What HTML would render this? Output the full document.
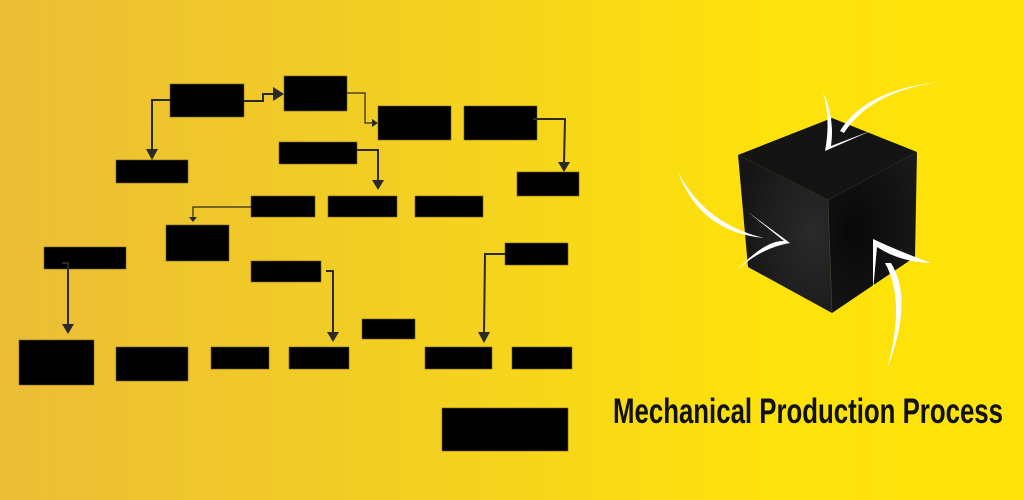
<!DOCTYPE html>
<html><head><meta charset="utf-8"><style>
html,body{margin:0;padding:0;}
body{width:1024px;height:500px;overflow:hidden;background:linear-gradient(90deg,#ebbd36 0%,#f4d21f 45%,#fde20b 75%,#fee30a 100%);}
svg{display:block}
</style></head><body>
<svg width="1024" height="500" viewBox="0 0 1024 500" xmlns="http://www.w3.org/2000/svg">
<defs>
<radialGradient id="lf" cx="0.8" cy="0.5" r="0.8"><stop offset="0" stop-color="#2a2a2a"/><stop offset="1" stop-color="#151515"/></radialGradient>
<radialGradient id="rf" cx="0.3" cy="0.5" r="0.8"><stop offset="0" stop-color="#080808"/><stop offset="1" stop-color="#1a1a1a"/></radialGradient>
</defs>
<g fill="#000" stroke="#6b5a1a" stroke-width="0.6">
<rect x="170" y="84" width="74" height="33"/>
<rect x="284" y="76" width="63" height="35"/>
<rect x="378" y="106" width="73" height="34"/>
<rect x="464" y="106" width="73" height="34"/>
<rect x="116" y="160" width="72" height="23"/>
<rect x="279" y="142" width="78" height="22"/>
<rect x="517" y="172" width="62" height="24"/>
<rect x="251" y="196" width="64" height="21"/>
<rect x="328" y="196" width="69" height="21"/>
<rect x="415" y="196" width="68" height="21"/>
<rect x="166" y="225" width="63" height="36"/>
<rect x="44" y="247" width="82" height="22"/>
<rect x="251" y="261" width="70" height="21"/>
<rect x="505" y="243" width="63" height="22"/>
<rect x="362" y="319" width="53" height="20"/>
<rect x="19" y="340" width="75" height="45"/>
<rect x="116" y="347" width="72" height="34"/>
<rect x="211" y="347" width="58" height="22"/>
<rect x="289" y="347" width="60" height="22"/>
<rect x="425" y="347" width="67" height="22"/>
<rect x="512" y="347" width="60" height="22"/>
<rect x="442" y="408" width="126" height="43"/>
</g>
<g fill="none" stroke="#2a2a2a" stroke-width="2">
<polyline points="170,100 152,100 152,150"/>
<polyline points="244,101 263,101 263,94 274,94"/>
<polyline points="347,93 365,93 365,123 372,123" stroke-width="1.2"/>
<polyline points="533,119 565,119 564,163"/>
<polyline points="357,150 378,150 378,180"/>
<polyline points="251,207 193,207 193,218" stroke-width="1.2"/>
<polyline points="62,263 68,263 68,325"/>
<polyline points="326,271 333,271 333,333"/>
<polyline points="505,254 485,254 484,333"/>
</g>
<g fill="#2a2a2a">
<path d="M146,149 L158,149 L152,160Z"/>
<path d="M273,87 L284,94 L273,101Z"/>
<path d="M372,119 L378,123 L372,127Z"/>
<path d="M558,162 L570,162 L564,172Z"/>
<path d="M372,180 L384,180 L378,190Z"/>
<path d="M189,217 L197,217 L193,222Z"/>
<path d="M62,324 L74,324 L68,334Z"/>
<path d="M327,332 L339,332 L333,342Z"/>
<path d="M478,332 L490,332 L484,343Z"/>
</g>
<polygon points="832,118 917,152 828,200 738,155" fill="#141414"/>
<polygon points="738,155 828,200 832,313 748,267" fill="url(#lf)"/>
<polygon points="828,200 917,152 915,257 832,313" fill="url(#rf)"/>
<line x1="828" y1="200" x2="832" y2="313" stroke="#4a4530" stroke-width="0.6"/>
<g fill="#fff">
<path d="M823,92 Q831,120 825,151 L873,130 L831,146 Q835,118 823,92Z"/>
<path d="M840,131 Q865,90 939,82 Q870,92 844,133Z"/>
<path d="M678,172 Q700,232 764,238 Q705,224 678,172Z"/>
<path d="M748,212 L790,243 Q760,248 735,272 Q765,240 784,241 Z"/>
<path d="M873,239 L873,291 L877,247 Q900,262 931,263 Q896,250 873,239Z"/>
<path d="M885,263 Q906,300 887,369 Q914,300 891,263Z"/>
</g>
<text x="613" y="423" textLength="390" lengthAdjust="spacingAndGlyphs" font-family="Liberation Sans, sans-serif" font-weight="bold" font-size="35" fill="#111">Mechanical Production Process</text>
</svg>
</body></html>
